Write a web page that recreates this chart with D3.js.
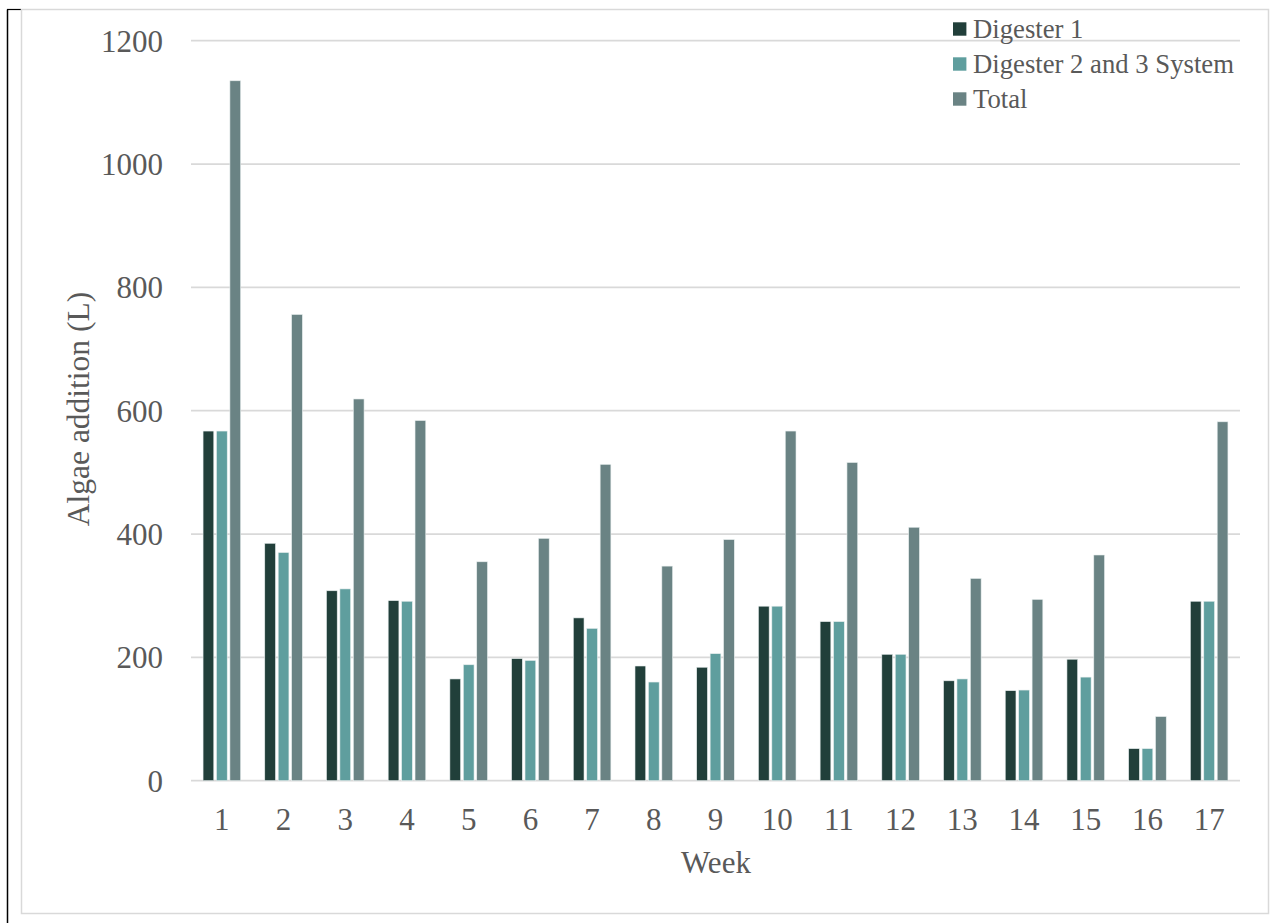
<!DOCTYPE html>
<html>
<head>
<meta charset="utf-8">
<script src="https://cdn.jsdelivr.net/npm/d3@7"></script>
<style>
  html, body { margin: 0; padding: 0; background: #fff; }
  svg { display: block; }
  text { font-family: "Liberation Serif", "Times New Roman", serif; fill: #595959; }
</style>
</head>
<body>
<svg id="chart" width="1282" height="923"></svg>
<script>
// Weekly algae additions (litres)
const weeks = ["1","2","3","4","5","6","7","8","9","10","11","12","13","14","15","16","17"];
const seriesNames = ["Digester 1", "Digester 2 and 3 System", "Total"];
const digester1 = [567, 385, 308, 292, 165, 198, 264, 186, 184, 283, 258, 205, 162, 146, 197, 52, 291];
const digester23 = [567, 370, 311, 291, 188, 195, 247, 160, 206, 283, 258, 205, 165, 147, 168, 52, 291];
const total = [1135, 756, 619, 584, 355, 393, 513, 348, 391, 567, 516, 411, 328, 294, 366, 104, 582];
const yTicks = [0, 200, 400, 600, 800, 1000, 1200];
const colors = ["#213f3a", "#5f9e9e", "#6a8384"];

const seriesValues = [digester1, digester23, total];

const svg = d3.select("#chart");

// outer frame
svg.append("line").attr("x1", 7.5).attr("x2", 7.5).attr("y1", 9.5).attr("y2", 923)
  .attr("stroke", "#000").attr("stroke-width", 1.5);
svg.append("line").attr("x1", 7).attr("x2", 21).attr("y1", 9.5).attr("y2", 9.5)
  .attr("stroke", "#000").attr("stroke-width", 1.2);
svg.append("rect").attr("x", 21.5).attr("y", 9.5).attr("width", 1247).attr("height", 904)
  .attr("fill", "none").attr("stroke", "#d9d9d9").attr("stroke-width", 1.5);

const plot = { left: 191, right: 1240, top: 40.7, bottom: 780.7 };

const x = d3.scaleBand().domain(weeks).range([plot.left, plot.right]).padding(0);
const y = d3.scaleLinear().domain([0, 1200]).range([plot.bottom, plot.top]);

const groupWidth = 37.6;
const xInner = d3.scaleBand().domain(seriesNames)
  .range([-groupWidth / 2, groupWidth / 2]).paddingInner(0.2).paddingOuter(0);

// gridlines
svg.append("g").selectAll("line").data(yTicks).join("line")
  .attr("x1", plot.left).attr("x2", plot.right)
  .attr("y1", d => y(d)).attr("y2", d => y(d))
  .attr("stroke", "#d9d9d9").attr("stroke-width", 1.8);

// y tick labels
svg.append("g").selectAll("text").data(yTicks).join("text")
  .attr("x", 163).attr("y", d => y(d)).attr("dy", "0.35em")
  .attr("text-anchor", "end").attr("font-size", 31)
  .text(d => d);

// bars
const rows = weeks.map((w, i) => ({ week: w, values: seriesNames.map((s, j) => ({ s, j, v: seriesValues[j][i] })) }));
const groups = svg.append("g").selectAll("g").data(rows).join("g")
  .attr("transform", d => `translate(${x(d.week) + x.bandwidth() / 2},0)`);
groups.selectAll("rect").data(d => d.values).join("rect")
  .attr("x", d => xInner(d.s))
  .attr("width", xInner.bandwidth())
  .attr("y", d => y(d.v))
  .attr("height", d => y(0) - y(d.v))
  .attr("fill", d => colors[d.j])
  .attr("stroke", "#e8eeee").attr("stroke-width", 0.6);

// x tick labels
svg.append("g").selectAll("text").data(weeks).join("text")
  .attr("x", d => x(d) + x.bandwidth() / 2).attr("y", 830)
  .attr("text-anchor", "middle").attr("font-size", 31)
  .text(d => d);

// axis titles
svg.append("text").attr("x", 716).attr("y", 873)
  .attr("text-anchor", "middle").attr("font-size", 31).text("Week");
svg.append("text").attr("transform", "translate(89,409) rotate(-90)")
  .attr("text-anchor", "middle").attr("font-size", 31.5).text("Algae addition (L)");

// legend
const legend = svg.append("g").selectAll("g").data(seriesNames).join("g")
  .attr("transform", (d, i) => `translate(953,${29 + i * 35})`);
legend.append("rect").attr("x", 0).attr("y", -6.7).attr("width", 13.4).attr("height", 13.4)
  .attr("fill", (d, i) => colors[i]);
legend.append("text").attr("x", 20).attr("y", 0).attr("dy", "0.33em")
  .attr("font-size", 26.7).text(d => d);
</script>
</body>
</html>
